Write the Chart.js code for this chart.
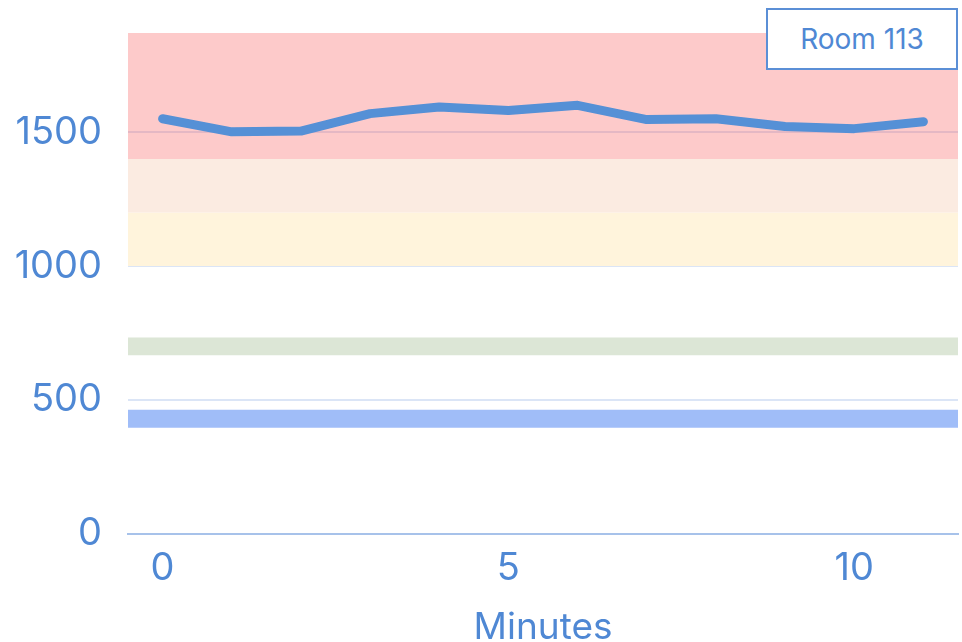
<!DOCTYPE html>
<html>
<head>
<meta charset="utf-8">
<script src="https://cdn.jsdelivr.net/npm/chart.js@4"></script>
<style>
  html, body { margin: 0; padding: 0; background: #fff; overflow: hidden; }
  #wrap { position: relative; width: 962px; height: 642px; }
  #legend {
    position: absolute; left: 766px; top: 8px; width: 188px; height: 58px;
    border: 2px solid #5b8fd6; background: #fff;
    font: 28px Inter, sans-serif; color: #4f88d4;
    display: flex; align-items: center; justify-content: center;
    box-sizing: content-box; line-height: 1;
  }
</style>
</head>
<body>
<div id="wrap">
  <canvas id="chart" width="962" height="642"></canvas>
  <div id="legend">Room 113</div>
</div>
<script>
// Data
const minutes = [0, 1, 2, 3, 4, 5, 6, 7, 8, 9, 10, 11];
const roomValues = [1550, 1501, 1504, 1569, 1594, 1581, 1600, 1547, 1550, 1521, 1513, 1539];
const yTicks = [0, 500, 1000, 1500];

// Background bands (low / high) and the outdoor reference level
const bandLow = [1400, 1200, 1000, 667];
const bandHigh = [1870, 1400, 1200, 733];
const bandColors = ['rgba(250, 80, 80, 0.3)', '#fbebe1', '#fff4dc', '#dce6d6'];
const outdoorLevel = 430;

const blue = '#4f88d4';

const datasets = [{
    label: 'Room 113',
    data: roomValues,
    borderColor: '#5590d6',
    borderWidth: 9,
    borderCapStyle: 'round',
    borderJoinStyle: 'round',
    pointRadius: 0,
    tension: 0,
    order: 0
}];

bandHigh.forEach((high, i) => {
    datasets.push({
        label: 'band' + i,
        xAxisID: 'xb',
        data: [{ x: 0, y: high }, { x: 1, y: high }],
        borderWidth: 0,
        pointRadius: 0,
        backgroundColor: bandColors[i],
        fill: { value: bandLow[i] },
        order: 10
    });
});

datasets.push({
    label: 'outdoor',
    xAxisID: 'xb',
    data: [{ x: 0, y: outdoorLevel }, { x: 1, y: outdoorLevel }],
    borderColor: '#a0bdf8',
    borderWidth: 18,
    borderCapStyle: 'butt',
    pointRadius: 0,
    clip: false,
    order: 5
});

const ctx = document.getElementById('chart').getContext('2d');
new Chart(ctx, {
    type: 'line',
    data: { labels: minutes, datasets: datasets },
    options: {
        responsive: false,
        animation: false,
        layout: { padding: { top: 33, right: 4, left: 0, bottom: 0 } },
        plugins: { legend: { display: false }, tooltip: { enabled: false } },
        scales: {
            x: {
                offset: true,
                grid: { display: false, drawTicks: false },
                border: { display: true, color: '#a7c2ea', width: 2 },
                ticks: {
                    color: blue,
                    font: { family: 'Inter', size: 38 },
                    padding: 12,
                    maxRotation: 0,
                    autoSkip: false,
                    callback: (v, i) => (minutes[i] % 5 === 0 ? String(minutes[i]) : '')
                },
                title: {
                    display: true,
                    text: 'Minutes',
                    color: blue,
                    font: { family: 'Inter', size: 37, lineHeight: 1 },
                    padding: { top: 0, bottom: -4 }
                },
                afterFit: (scale) => { scale.height = 108; }
            },
            xb: {
                type: 'linear',
                min: 0,
                max: 1,
                display: false
            },
            y: {
                min: 0,
                max: 1870,
                grid: { color: '#dbe5f6', lineWidth: 2, drawTicks: false },
                border: { display: false },
                ticks: {
                    color: blue,
                    font: { family: 'Inter', size: 38 },
                    padding: 26,
                    callback: (v) => String(v)
                },
                afterBuildTicks: (scale) => { scale.ticks = yTicks.map(v => ({ value: v })); },
                afterFit: (scale) => {
                    scale.width = 128;
                    scale.paddingTop = 0;
                    scale.paddingBottom = 0;
                }
            }
        }
    }
});
</script>
</body>
</html>
